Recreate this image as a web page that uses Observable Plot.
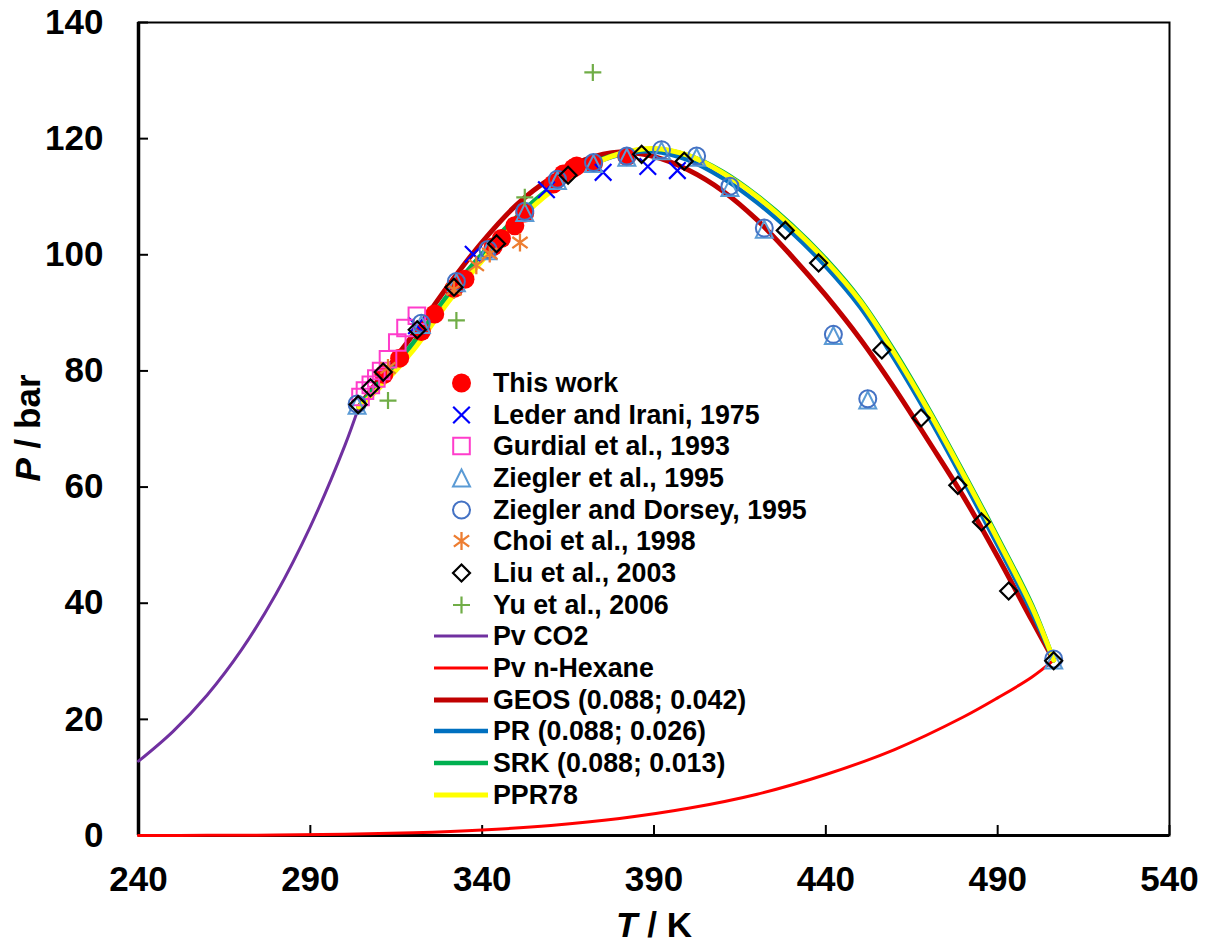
<!DOCTYPE html>
<html><head><meta charset="utf-8">
<script src="https://cdn.jsdelivr.net/npm/d3@7"></script>
<script src="https://cdn.jsdelivr.net/npm/@observablehq/plot@0.6"></script>
<style>
body{margin:0;background:#fff;}
#wrap{position:relative;width:1205px;height:945px;font-family:"Liberation Sans",Arial,sans-serif;}
#legend{position:absolute;left:0;top:0;}
.row{position:absolute;height:32px;line-height:32px;font-size:26.8px;font-weight:bold;color:#000;white-space:nowrap;}
</style></head>
<body><div id="wrap"><div id="chart"></div><div id="legend"></div></div>
<script>
// ---------- data ----------
const xTicks = [240, 290, 340, 390, 440, 490, 540];
const yTicks = [0, 20, 40, 60, 80, 100, 120, 140];

const thisWorkT = [311.4, 316.0, 322.3, 326.2, 331.8, 335.0, 343.2, 345.6, 349.5, 352.4, 360.7, 363.6, 366.5, 367.5, 372.4, 382.1];
const thisWorkP = [79.4, 82.2, 86.8, 89.8, 94.2, 95.8, 101.4, 102.8, 105.0, 107.2, 112.2, 113.9, 114.9, 115.3, 115.7, 116.9];

const lederT = [320.9, 337.4, 358.7, 375.2, 388.2, 396.8];
const lederP = [87.8, 100.1, 111.2, 114.2, 115.2, 114.5];

const gurdialT = [304.6, 305.9, 307.6, 309.2, 310.6, 312.6, 315.3, 317.7, 321.0];
const gurdialP = [75.5, 76.6, 77.6, 78.7, 80.0, 82.0, 84.9, 87.4, 89.5];

const zieglerT = [303.6, 322.3, 332.5, 341.7, 352.4, 361.9, 372.4, 382.1, 392.2, 402.4, 412.1, 422.1, 442.2, 452.2, 506.3];
const zieglerP = [74.1, 88.0, 95.2, 100.7, 107.3, 112.8, 115.7, 116.8, 117.9, 116.8, 111.6, 104.4, 86.1, 75.0, 30.2];

const zdT = [303.6, 322.3, 332.5, 341.7, 352.4, 361.9, 372.4, 382.1, 392.2, 402.4, 412.1, 422.1, 442.2, 452.2, 506.3];
const zdP = [74.3, 88.2, 95.4, 100.9, 107.5, 113.0, 115.9, 117.0, 118.1, 117.0, 111.8, 104.6, 86.3, 75.2, 30.4];

const choiT = [312.6, 331.8, 338.3, 342.2, 351.0];
const choiP = [80.5, 94.0, 98.2, 100.2, 102.1];

const liuT = [303.9, 307.5, 311.2, 321.1, 331.8, 344.2, 365.0, 386.4, 398.8, 428.2, 437.9, 456.3, 467.7, 478.4, 485.3, 493.2, 506.3];
const liuP = [74.2, 77.1, 79.8, 87.1, 94.4, 101.9, 113.7, 117.3, 116.1, 104.2, 98.6, 83.6, 71.9, 60.3, 54.0, 42.1, 30.1];

const yuT = [312.6, 332.5, 352.4, 372.2];
const yuP = [74.9, 88.7, 109.9, 131.4];

const pvCO2T = [240, 250, 260, 270, 280, 290, 300, 304.1];
const pvCO2P = [12.8, 17.9, 24.2, 32.0, 41.6, 53.2, 67.1, 73.8];

const pvHexT = [240, 260, 280, 300, 320, 340, 360, 380, 400, 420, 440, 460, 480, 490, 500, 506.3];
const pvHexP = [0.01, 0.03, 0.08, 0.21, 0.47, 0.95, 1.73, 2.93, 4.68, 7.11, 10.5, 14.8, 20.4, 23.7, 27.3, 30.2];

const modelT = [304.1, 310, 320, 330, 340, 350, 360, 370, 380, 390, 400, 410, 420, 430, 440, 450, 460, 470, 480, 490, 500, 506.3];
const geosP  = [73.8, 78.6, 86.3, 94.6, 102.2, 108.6, 113.2, 116.4, 117.7, 116.9, 114.6, 111.0, 106.0, 99.8, 93.0, 85.5, 77.0, 67.8, 58.4, 48.0, 37.0, 30.2];
const prP    = [73.8, 77.8, 84.6, 92.8, 99.9, 106.2, 111.3, 115.0, 117.2, 117.8, 116.3, 113.2, 109.0, 103.9, 98.0, 91.0, 82.0, 72.0, 61.2, 50.0, 38.4, 30.2];
const srkP   = [73.8, 78.0, 84.9, 93.1, 100.2, 106.5, 111.6, 115.3, 117.4, 118.2, 117.1, 114.3, 110.2, 105.2, 99.3, 92.3, 83.4, 73.4, 62.6, 51.4, 39.7, 30.2];
const ppr78P = [73.8, 77.0, 83.6, 91.8, 99.0, 105.6, 110.9, 114.9, 117.4, 118.3, 117.1, 114.1, 110.0, 104.9, 99.0, 92.0, 83.0, 73.0, 62.2, 51.0, 39.3, 30.2];

// ---------- symbols ----------
const R = s => Math.sqrt(s / Math.PI);
const symTimes = {draw(c, s){const r=R(s); c.moveTo(-r,-r); c.lineTo(r,r); c.moveTo(-r,r); c.lineTo(r,-r);}};
const symSquare = {draw(c, s){const r=R(s); c.rect(-r,-r,2*r,2*r);}};
const symTri = {draw(c, s){const r=R(s); c.moveTo(0,-r); c.lineTo(r,r); c.lineTo(-r,r); c.closePath();}};
const symCircle = {draw(c, s){const r=R(s); c.moveTo(r,0); c.arc(0,0,r,0,2*Math.PI);}};
const symAst = {draw(c, s){const r=R(s); c.moveTo(0,-r); c.lineTo(0,r); c.moveTo(-0.85*r,-0.62*r); c.lineTo(0.85*r,0.62*r); c.moveTo(-0.85*r,0.62*r); c.lineTo(0.85*r,-0.62*r);}};
const symDiamond = {draw(c, s){const r=R(s); c.moveTo(0,-r); c.lineTo(r,0); c.lineTo(0,r); c.lineTo(-r,0); c.closePath();}};
const symPlus = {draw(c, s){const r=R(s); c.moveTo(0,-r); c.lineTo(0,r); c.moveTo(-r,0); c.lineTo(r,0);}};

const pts = (T, P) => T.map((t, i) => ({T: t, P: P[i]}));

const scatterSeries = [
  {label: "This work", T: thisWorkT, P: thisWorkP, symbol: symCircle, fill: "#FF0000", stroke: "none", r: 9.5, sw: 0},
  {label: "Leder and Irani, 1975", T: lederT, P: lederP, symbol: symTimes, fill: "none", stroke: "#0000FF", r: 8.3, sw: 2.2},
  {label: "Gurdial et al., 1993", T: gurdialT, P: gurdialP, symbol: symSquare, fill: "none", stroke: "#FF3CCB", r: 8.3, sw: 2},
  {label: "Ziegler et al., 1995", T: zieglerT, P: zieglerP, symbol: symTri, fill: "none", stroke: "#5B9BD5", r: 8.5, sw: 2},
  {label: "Ziegler and Dorsey, 1995", T: zdT, P: zdP, symbol: symCircle, fill: "none", stroke: "#4472C4", r: 8.5, sw: 2},
  {label: "Choi et al., 1998", T: choiT, P: choiP, symbol: symAst, fill: "none", stroke: "#ED7D31", r: 9, sw: 2.3},
  {label: "Liu et al., 2003", T: liuT, P: liuP, symbol: symDiamond, fill: "none", stroke: "#000000", r: 8.5, sw: 2.2},
  {label: "Yu et al., 2006", T: yuT, P: yuP, symbol: symPlus, fill: "none", stroke: "#70AD47", r: 8.5, sw: 2.2}
];

const lineSeries = [
  {label: "Pv CO2", T: pvCO2T, P: pvCO2P, color: "#7030A0", w: 3},
  {label: "Pv n-Hexane", T: pvHexT, P: pvHexP, color: "#FF0000", w: 3},
  {label: "GEOS (0.088; 0.042)", T: modelT, P: geosP, color: "#C00000", w: 5},
  {label: "PR (0.088; 0.026)", T: modelT, P: prP, color: "#0070C0", w: 4.5},
  {label: "SRK (0.088; 0.013)", T: modelT, P: srkP, color: "#00B050", w: 4.5},
  {label: "PPR78", T: modelT, P: ppr78P, color: "#FFFF00", w: 5}
];

// ---------- chart ----------
const W = 1205, H = 945, mL = 138, mR = 36, mT = 22, mB = 110;
const plotW = W - mL - mR, plotH = H - mT - mB;
const font = "'Liberation Sans', Arial, sans-serif";

const marks = [
  Plot.frame({stroke: "#000", strokeWidth: 2}),
  Plot.ruleX([xTicks[0]], {stroke: "#000", strokeWidth: 3.5}),
  Plot.ruleY([yTicks[0]], {stroke: "#000", strokeWidth: 3}),
  Plot.tickX(xTicks, {x: d => d, stroke: "#000", strokeWidth: 2, insetTop: plotH - 10}),
  Plot.tickY(yTicks, {y: d => d, stroke: "#000", strokeWidth: 2, insetRight: plotW - 10}),
  Plot.axisX({ticks: xTicks, tickSize: 0, tickPadding: 31, fontSize: 35, fontWeight: "bold", label: null, tickFormat: d => String(d)}),
  Plot.axisY({ticks: yTicks, tickSize: 0, tickPadding: 35, fontSize: 35, fontWeight: "bold", label: null, tickFormat: d => String(d)})
];
for (const s of lineSeries) {
  marks.push(Plot.line(pts(s.T, s.P), {x: "T", y: "P", stroke: s.color, strokeWidth: s.w, curve: "catmull-rom"}));
}
for (const s of scatterSeries) {
  marks.push(Plot.dot(pts(s.T, s.P), {x: "T", y: "P", symbol: s.symbol, r: s.r, fill: s.fill, stroke: s.stroke, strokeWidth: s.sw}));
}

const chart = Plot.plot({
  width: W, height: H,
  marginLeft: mL, marginRight: mR, marginTop: mT, marginBottom: mB,
  x: {domain: [xTicks[0], xTicks[xTicks.length - 1]]},
  y: {domain: [yTicks[0], yTicks[yTicks.length - 1]]},
  style: {fontFamily: font, background: "#fff", color: "#000", overflow: "visible"},
  marks
});
document.getElementById("chart").appendChild(chart);

// axis titles with italic variable
const svg = d3.select(chart);
const yt = svg.append("text").attr("transform", "translate(40,428) rotate(-90)")
  .attr("text-anchor", "middle").attr("font-size", 35).attr("font-weight", "bold").attr("font-family", font).attr("fill", "#000");
yt.append("tspan").attr("font-style", "italic").text("P");
yt.append("tspan").text(" / bar");
const xt = svg.append("text").attr("transform", "translate(654,937)")
  .attr("text-anchor", "middle").attr("font-size", 35).attr("font-weight", "bold").attr("font-family", font).attr("fill", "#000");
xt.append("tspan").attr("font-style", "italic").text("T");
xt.append("tspan").text(" / K");

// ---------- legend ----------
const leg = d3.select("#legend");
const rowTop0 = 367, rowStep = 31.67;
const items = [
  ...scatterSeries.map(s => ({label: s.label, type: "dot", s})),
  ...lineSeries.map(s => ({label: s.label, type: "line", s}))
];
items.forEach((it, i) => {
  const top = rowTop0 + i * rowStep;
  const g = leg.append("svg").attr("width", 60).attr("height", 32)
    .style("position", "absolute").style("left", "430px").style("top", top + "px");
  if (it.type === "dot") {
    const s = it.s;
    g.append("path").attr("transform", "translate(31.5,16)")
      .attr("d", d3.symbol(s.symbol, Math.PI * s.r * s.r)())
      .attr("fill", s.fill).attr("stroke", s.stroke).attr("stroke-width", s.sw);
  } else {
    const s = it.s;
    g.append("line").attr("x1", 4).attr("x2", 58).attr("y1", 16).attr("y2", 16)
      .attr("stroke", s.color).attr("stroke-width", s.w);
  }
  leg.append("div").attr("class", "row").style("left", "493px").style("top", top + "px").text(it.label);
});
</script>
</body></html>
